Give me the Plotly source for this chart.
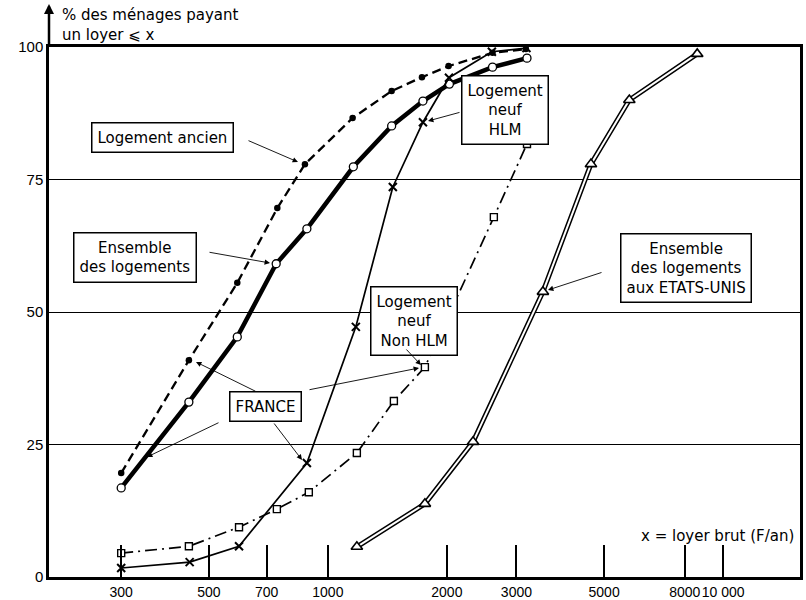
import numpy as np
import plotly.graph_objects as go

# ---------------- data ----------------
ancien_x = [300, 445, 590, 745, 875, 1155, 1450, 1730, 2020, 2610, 3170]
ancien_y = [19.6, 40.9, 55.5, 69.6, 77.9, 86.6, 91.7, 94.3, 96.4, 98.9, 99.6]

ensemble_x = [300, 445, 590, 740, 885, 1160, 1450, 1740, 2030, 2610, 3190]
ensemble_y = [16.8, 33.0, 45.3, 59.1, 65.7, 77.4, 85.1, 89.8, 93.0, 96.2, 97.9]

hlm_x = [300, 447, 596, 885, 1177, 1460, 1740, 2025, 2600, 3180]
hlm_y = [1.7, 2.8, 5.8, 21.5, 47.2, 73.6, 85.8, 94.2, 99.1, 99.8]

nonhlm_x = [300, 445, 596, 743, 895, 1184, 1469, 1760, 2630, 3190]
nonhlm_y = [4.5, 5.8, 9.4, 12.8, 16.0, 23.4, 33.2, 39.6, 67.9, 81.7]

usa_x = [1184, 1760, 2330, 3500, 4630, 5790, 8600]
usa_y = [5.7, 13.8, 25.5, 53.8, 77.9, 90.0, 98.7]

x_tickvals = [300, 500, 700, 1000, 2000, 3000, 5000, 8000, 10000]
x_ticktext = ["300", "500", "700", "1000", "2000", "3000", "5000", "8000",
              "10 000"]
y_tickvals = [0, 25, 50, 75, 100]

FONT = "DejaVu Sans"
TICKFONT = "Liberation Sans"

# plot area in pixels (806x600 page)
L, R, T, B = 49, 800, 47, 577


def px(xp):
    return (xp - L) / (R - L)


def py(yp):
    return (B - yp) / (B - T)


fig = go.Figure()

# Logement ancien: dashed, filled dots
fig.add_trace(go.Scatter(
    x=ancien_x, y=ancien_y, mode="lines+markers",
    line=dict(color="black", width=2.3, dash="9px,5px"),
    marker=dict(symbol="circle", size=6.5, color="black"),
    showlegend=False))

# Ensemble des logements: thick solid, open circles
fig.add_trace(go.Scatter(
    x=ensemble_x, y=ensemble_y, mode="lines+markers",
    line=dict(color="black", width=4.5),
    marker=dict(symbol="circle", size=8, color="white",
                line=dict(color="black", width=1.3)),
    showlegend=False))

# Logement neuf HLM: thin solid, crosses
fig.add_trace(go.Scatter(
    x=hlm_x, y=hlm_y, mode="lines+markers",
    line=dict(color="black", width=1.7),
    marker=dict(symbol="x-thin", size=8, color="black",
                line=dict(color="black", width=2)),
    showlegend=False))

# Logement neuf Non HLM: dash-dot, open squares
fig.add_trace(go.Scatter(
    x=nonhlm_x, y=nonhlm_y, mode="lines+markers",
    line=dict(color="black", width=1.7, dash="12px,5px,2px,5px"),
    marker=dict(symbol="square", size=7, color="white",
                line=dict(color="black", width=1.4)),
    showlegend=False))

# Etats-Unis: double line, open triangles
fig.add_trace(go.Scatter(
    x=usa_x, y=usa_y, mode="lines",
    line=dict(color="black", width=5),
    showlegend=False))
fig.add_trace(go.Scatter(
    x=usa_x, y=usa_y, mode="lines+markers",
    line=dict(color="white", width=2),
    marker=dict(symbol="triangle-up", size=10, color="white",
                line=dict(color="black", width=1.6)),
    showlegend=False))

annotations = []

# boxed labels
boxes = [
    ("Logement ancien", 162, 137),
    ("Ensemble<br>des logements", 135, 257),
    ("Logement<br>neuf<br>HLM", 505, 110),
    ("Logement<br>neuf<br>Non HLM", 414, 321),
    ("FRANCE", 265, 406),
    ("Ensemble<br>des logements<br>aux ETATS-UNIS", 686, 268),
]
for txt, cx, cy in boxes:
    annotations.append(dict(
        text=txt, xref="paper", yref="paper", x=px(cx), y=py(cy),
        xanchor="center", yanchor="middle", showarrow=False, align="center",
        font=dict(family=FONT, size=15, color="black"),
        bordercolor="black", borderwidth=1.5, borderpad=5, bgcolor="white"))

# arrows (tail pixel -> head pixel)
arrows = [
    ((247, 140), (298, 162)),
    ((208, 252), (270, 263)),
    ((461, 112), (428, 121)),
    ((405, 348), (421, 365)),
    ((257, 392), (196, 362)),
    ((220, 422), (147, 457)),
    ((273, 422), (302, 460)),
    ((308, 390), (419, 368)),
    ((603, 272), (548, 290)),
]
for (tx, ty), (hx, hy) in arrows:
    annotations.append(dict(
        text="", xref="paper", yref="paper", x=px(hx), y=py(hy),
        ax=tx - hx, ay=ty - hy, showarrow=True, arrowhead=2,
        arrowsize=1.2, arrowwidth=0.9, arrowcolor="black",
        standoff=0, startstandoff=0))

# y axis arrow
annotations.append(dict(
    text="", xref="paper", yref="paper", x=0, y=py(4),
    ax=0, ay=43, showarrow=True, arrowhead=2, arrowsize=0.8,
    arrowwidth=2.5, arrowcolor="black", standoff=0, startstandoff=0))

# axis titles
annotations.append(dict(
    text="% des ménages payant<br>un loyer ⩽ x", xref="paper", yref="paper",
    x=px(60), y=py(4), xanchor="left", yanchor="top", showarrow=False,
    align="left", font=dict(family=FONT, size=15, color="black")))
annotations.append(dict(
    text="x = loyer brut (F/an)", xref="paper", yref="paper",
    x=px(796), y=py(536), xanchor="right", yanchor="middle", showarrow=False,
    font=dict(family=FONT, size=15, color="black")))

fig.update_layout(
    width=806, height=600,
    margin=dict(l=L, r=806 - R, t=T, b=600 - B, autoexpand=False),
    paper_bgcolor="white", plot_bgcolor="white",
    font=dict(family=FONT, size=14, color="black"),
    annotations=annotations,
    xaxis=dict(
        type="log", range=[np.log10(197), np.log10(15650)],
        tickvals=x_tickvals, ticktext=x_ticktext, tickangle=0,
        ticks="inside", ticklen=32, tickwidth=1.5, tickcolor="black",
        showgrid=False, zeroline=False, automargin=False,
        showline=True, linecolor="black", linewidth=2.5, mirror=True,
        tickfont=dict(family=TICKFONT, size=14, color="black")),
    yaxis=dict(
        range=[0, 100], tickvals=y_tickvals, automargin=False,
        ticks="", showgrid=True, gridcolor="black", gridwidth=1.2,
        zeroline=False, showline=True, linecolor="black", linewidth=2.5,
        mirror=True, tickfont=dict(family=TICKFONT, size=15, color="black")),
)

fig.write_html("out.html",
               config={"displayModeBar": False},
               post_script="document.body.style.margin='0';"
                           "document.body.style.overflow='hidden';")
